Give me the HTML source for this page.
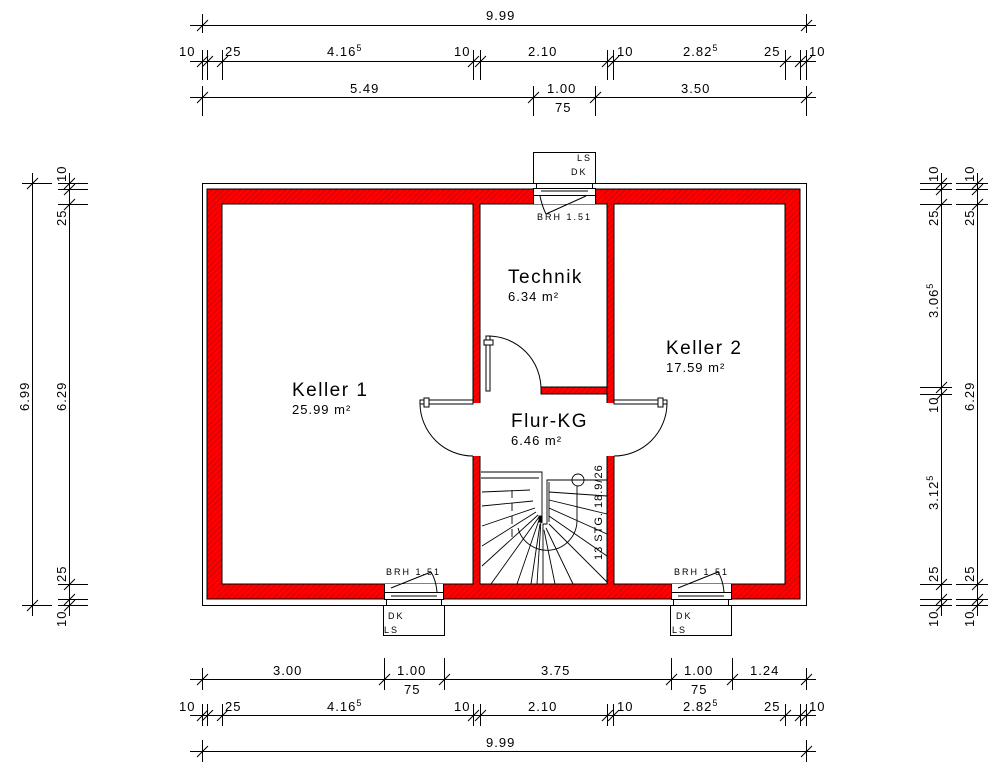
<!DOCTYPE html>
<html><head><meta charset="utf-8"><style>
html,body{margin:0;padding:0;background:#fff;}
svg{display:block;}
text{font-family:"Liberation Sans",sans-serif;fill:#000;}
.d{font-size:13px;letter-spacing:1px;}
.s{font-size:9px;letter-spacing:2px;}
</style></head><body>
<svg width="1000" height="776" viewBox="0 0 1000 776" xmlns="http://www.w3.org/2000/svg">
<defs>
<pattern id="h" width="4" height="4" patternUnits="userSpaceOnUse" patternTransform="rotate(45)">
<rect width="4" height="4" fill="#ff0000"/>
<line x1="0" y1="0" x2="0" y2="4" stroke="#000" stroke-width="0.6" opacity="0.55"/>
</pattern>
</defs>
<rect width="1000" height="776" fill="#fff"/>

<!-- building -->
<rect x="202.5" y="183.5" width="604" height="422" fill="#fff" stroke="#000"/>
<rect x="207" y="189" width="593" height="410" fill="url(#h)" stroke="#000" stroke-width="1"/>
<g fill="#fff" stroke="#000">
<rect x="222" y="204" width="251" height="380"/>
<rect x="480" y="204" width="127" height="183"/>
<rect x="614" y="204" width="171" height="380"/>
<rect x="480" y="387" width="127" height="197" stroke="none"/>
<rect x="472" y="403" width="10" height="53" stroke="none"/>
<rect x="606" y="403" width="10" height="53" stroke="none"/>
<rect x="480" y="336" width="61" height="58" stroke="none"/>
</g>
<rect x="541" y="387" width="66" height="7" fill="url(#h)" stroke="#000"/>
<g stroke="#000" fill="none">
<line x1="480" y1="394" x2="480" y2="403"/><line x1="480" y1="456" x2="480" y2="584"/>
<line x1="607" y1="394" x2="607" y2="403"/><line x1="607" y1="456" x2="607" y2="584"/>
<line x1="480" y1="584" x2="607" y2="584"/>
<line x1="480" y1="336" x2="480" y2="394"/>
<!-- doors -->
<rect x="420" y="400" width="53" height="4" fill="#fff"/>
<path d="M420 404 A53 53 0 0 0 473 456"/>
<rect x="614" y="400" width="53" height="4" fill="#fff"/>
<path d="M667 404 A53 53 0 0 1 614 456"/>
<rect x="486" y="336" width="4" height="55" fill="#fff"/>
<path d="M488 336 A53 53 0 0 1 541 389"/>
<rect x="424" y="398" width="5" height="9" fill="#fff"/>
<rect x="658" y="398" width="5" height="9" fill="#fff"/>
<rect x="484" y="340" width="9" height="5" fill="#fff"/>
</g>

<!-- windows -->
<g stroke="#000" fill="#fff">
<rect x="533" y="183" width="62" height="21" stroke="none"/>
<rect x="533.5" y="152.5" width="62" height="31"/>
<rect x="536.5" y="183.5" width="56" height="5"/>
<rect x="533.5" y="188.5" width="62" height="7"/>
<line x1="541" y1="191" x2="588" y2="191"/>
<line x1="533.5" y1="195" x2="533.5" y2="204"/><line x1="595.5" y1="195" x2="595.5" y2="204"/>
<path d="M540 196 Q542 206 546 214" fill="none"/><line x1="546" y1="214" x2="586" y2="196"/>

<rect x="384" y="584" width="60" height="21" stroke="none"/>
<rect x="383.5" y="605.5" width="61" height="30"/>
<rect x="386.5" y="599.5" width="55" height="6"/>
<rect x="384.5" y="592.5" width="59" height="7"/>
<line x1="391" y1="596" x2="437" y2="596"/>
<line x1="384.5" y1="584" x2="384.5" y2="592"/><line x1="443.5" y1="584" x2="443.5" y2="592"/>
<line x1="391" y1="588" x2="431" y2="572" fill="none"/><path d="M431 572 Q436 580 437 592" fill="none"/>

<rect x="671" y="584" width="61" height="21" stroke="none"/>
<rect x="670.5" y="605.5" width="61" height="30"/>
<rect x="673.5" y="599.5" width="55" height="6"/>
<rect x="671.5" y="592.5" width="60" height="7"/>
<line x1="678" y1="596" x2="724" y2="596"/>
<line x1="671.5" y1="584" x2="671.5" y2="592"/><line x1="731.5" y1="584" x2="731.5" y2="592"/>
<line x1="678" y1="588" x2="718" y2="572" fill="none"/><path d="M718 572 Q723 580 724 592" fill="none"/>
</g>
<text class="s" x="577" y="161">LS</text><text class="s" x="571" y="175">DK</text>
<text class="s" x="537" y="220">BRH 1.51</text>
<text class="s" x="388" y="619">DK</text><text class="s" x="384" y="633">LS</text>
<text class="s" x="386" y="575">BRH 1.51</text>
<text class="s" x="676" y="619">DK</text><text class="s" x="672" y="633">LS</text>
<text class="s" x="674" y="575">BRH 1.51</text>

<!-- stairs -->
<g stroke="#000" fill="none" stroke-width="0.9">
<polyline points="481,472 542,472 542,523"/>
<line x1="481" y1="478" x2="539" y2="478"/>
<polyline points="607,480 547,480 547,524 543,524 543,584"/>
<line x1="549" y1="482" x2="549" y2="522"/>
<circle cx="578" cy="480" r="6"/>
<path d="M577 486 L577 520 A30 30 0 0 1 518 528"/>
<line x1="549" y1="492" x2="607" y2="496"/>
<line x1="549" y1="500" x2="607" y2="514"/>
<line x1="549" y1="508" x2="607" y2="534"/>
<line x1="549" y1="516" x2="607" y2="556"/>
<line x1="549" y1="524" x2="607" y2="582"/>
<line x1="546" y1="528" x2="573" y2="584"/>
<line x1="544" y1="530" x2="555" y2="584"/>
<line x1="540" y1="524" x2="531" y2="584"/>
<line x1="539" y1="520" x2="517" y2="584"/>
<line x1="539" y1="517" x2="491" y2="584"/>
<line x1="538" y1="515" x2="482" y2="566"/>
<line x1="536" y1="512" x2="482" y2="546"/>
<line x1="535" y1="508" x2="482" y2="526"/>
<line x1="533" y1="501" x2="482" y2="506"/>
<line x1="530" y1="490" x2="482" y2="492"/>
<line x1="512" y1="490" x2="512" y2="540" stroke-dasharray="8,5"/>
<line x1="541" y1="520" x2="537" y2="584"/>
<rect x="539" y="516" width="3" height="6" fill="#000"/>
</g>
<text class="s" transform="translate(602,560) rotate(-90)" style="font-size:11px;letter-spacing:1px">13 STG. 18.9/26</text>

<!-- room labels -->
<text x="292" y="396" style="font-size:19px;letter-spacing:1.5px">Keller 1</text>
<text x="292" y="414" style="font-size:13px;letter-spacing:1px">25.99 m²</text>
<text x="508" y="283" style="font-size:19px;letter-spacing:1.5px">Technik</text>
<text x="508" y="301" style="font-size:13px;letter-spacing:1px">6.34 m²</text>
<text x="666" y="354" style="font-size:19px;letter-spacing:1.5px">Keller 2</text>
<text x="666" y="372" style="font-size:13px;letter-spacing:1px">17.59 m²</text>
<text x="511" y="427" style="font-size:19px;letter-spacing:1.5px">Flur-KG</text>
<text x="511" y="445" style="font-size:13px;letter-spacing:1px">6.46 m²</text>

<!-- dimension lines -->
<g stroke="#000" stroke-width="1" fill="none">
<!-- top -->
<line x1="190" y1="25.5" x2="816" y2="25.5"/>
<line x1="190" y1="61.5" x2="816" y2="61.5"/>
<line x1="190" y1="97.5" x2="816" y2="97.5"/>
<path d="M202.5 14V33M806.5 14V33"/>
<path d="M202.5 50V80M207.5 50V80M222.5 50V80M473.5 50V80M480.5 50V80M607.5 50V80M613.5 50V80M785.5 50V80M800.5 50V80M806.5 50V80"/>
<path d="M202.5 86V116M533.5 86V116M595.5 86V116M806.5 86V116"/>
<path d="M197 31l11-11M801 31l11-11"/>
<path d="M197 67l11-11M202 67l11-11M217 67l11-11M468 67l11-11M475 67l11-11M602 67l11-11M608 67l11-11M780 67l11-11M795 67l11-11M801 67l11-11"/>
<path d="M197 103l11-11M528 103l11-11M590 103l11-11M801 103l11-11"/>
<!-- bottom -->
<line x1="190" y1="679.5" x2="816" y2="679.5"/>
<line x1="190" y1="715.5" x2="816" y2="715.5"/>
<line x1="190" y1="751.5" x2="816" y2="751.5"/>
<path d="M202.5 668V690M384.5 658V690M444.5 658V690M671.5 658V690M732.5 658V690M806.5 668V690"/>
<path d="M202.5 704V726M207.5 704V726M222.5 704V726M473.5 704V726M480.5 704V726M607.5 704V726M613.5 704V726M785.5 704V726M800.5 704V726M806.5 704V726"/>
<path d="M202.5 740V762M806.5 740V762"/>
<path d="M197 685l11-11M379 685l11-11M439 685l11-11M666 685l11-11M727 685l11-11M801 685l11-11"/>
<path d="M197 721l11-11M202 721l11-11M217 721l11-11M468 721l11-11M475 721l11-11M602 721l11-11M608 721l11-11M780 721l11-11M795 721l11-11M801 721l11-11"/>
<path d="M197 757l11-11M801 757l11-11"/>
<!-- left -->
<line x1="32.5" y1="173" x2="32.5" y2="616"/>
<line x1="69.5" y1="173" x2="69.5" y2="616"/>
<path d="M22 183.5H52M22 605.5H52"/>
<path d="M58 183.5H88M58 189.5H88M58 204.5H88M58 584.5H88M58 599.5H88M58 605.5H88"/>
<path d="M27 189l11-11M27 611l11-11"/>
<path d="M64 189l11-11M64 195l11-11M64 210l11-11M64 590l11-11M64 605l11-11M64 611l11-11"/>
<!-- right -->
<line x1="941.5" y1="173" x2="941.5" y2="616"/>
<line x1="977.5" y1="173" x2="977.5" y2="616"/>
<path d="M920 183.5H952M920 189.5H952M920 204.5H952M920 387.5H952M920 394.5H952M920 584.5H952M920 599.5H952M920 605.5H952"/>
<path d="M956 183.5H988M956 189.5H988M956 204.5H988M956 584.5H988M956 599.5H988M956 605.5H988"/>
<path d="M936 189l11-11M936 195l11-11M936 210l11-11M936 393l11-11M936 400l11-11M936 590l11-11M936 605l11-11M936 611l11-11"/>
<path d="M972 189l11-11M972 195l11-11M972 210l11-11M972 590l11-11M972 605l11-11M972 611l11-11"/>
</g>

<!-- dim texts -->
<g class="d">
<text x="486" y="20">9.99</text>
<text x="179" y="56">10</text><text x="225" y="56">25</text>
<text x="327" y="56">4.16<tspan dy="-5" font-size="9">5</tspan></text>
<text x="454" y="56">10</text><text x="528" y="56">2.10</text>
<text x="617" y="56">10</text>
<text x="683" y="56">2.82<tspan dy="-5" font-size="9">5</tspan></text>
<text x="764" y="56">25</text><text x="809" y="56">10</text>
<text x="350" y="93">5.49</text>
<text x="547" y="93">1.00</text><text x="555" y="112">75</text>
<text x="681" y="93">3.50</text>

<text x="273" y="675">3.00</text>
<text x="397" y="675">1.00</text><text x="404" y="694">75</text>
<text x="541" y="675">3.75</text>
<text x="684" y="675">1.00</text><text x="691" y="694">75</text>
<text x="750" y="675">1.24</text>
<text x="179" y="711">10</text><text x="225" y="711">25</text>
<text x="327" y="711">4.16<tspan dy="-5" font-size="9">5</tspan></text>
<text x="454" y="711">10</text><text x="528" y="711">2.10</text>
<text x="617" y="711">10</text>
<text x="683" y="711">2.82<tspan dy="-5" font-size="9">5</tspan></text>
<text x="764" y="711">25</text><text x="809" y="711">10</text>
<text x="486" y="747">9.99</text>

<text transform="translate(29,411) rotate(-90)">6.99</text>
<text transform="translate(66,411) rotate(-90)">6.29</text>
<text transform="translate(66,182) rotate(-90)">10</text>
<text transform="translate(66,226) rotate(-90)">25</text>
<text transform="translate(66,582) rotate(-90)">25</text>
<text transform="translate(66,627) rotate(-90)">10</text>

<text transform="translate(938,182) rotate(-90)">10</text>
<text transform="translate(938,226) rotate(-90)">25</text>
<text transform="translate(938,318) rotate(-90)">3.06<tspan dy="-5" font-size="9">5</tspan></text>
<text transform="translate(938,413) rotate(-90)">10</text>
<text transform="translate(938,510) rotate(-90)">3.12<tspan dy="-5" font-size="9">5</tspan></text>
<text transform="translate(938,582) rotate(-90)">25</text>
<text transform="translate(938,627) rotate(-90)">10</text>
<text transform="translate(974,182) rotate(-90)">10</text>
<text transform="translate(974,226) rotate(-90)">25</text>
<text transform="translate(974,411) rotate(-90)">6.29</text>
<text transform="translate(974,582) rotate(-90)">25</text>
<text transform="translate(974,627) rotate(-90)">10</text>
</g>
</svg>
</body></html>
